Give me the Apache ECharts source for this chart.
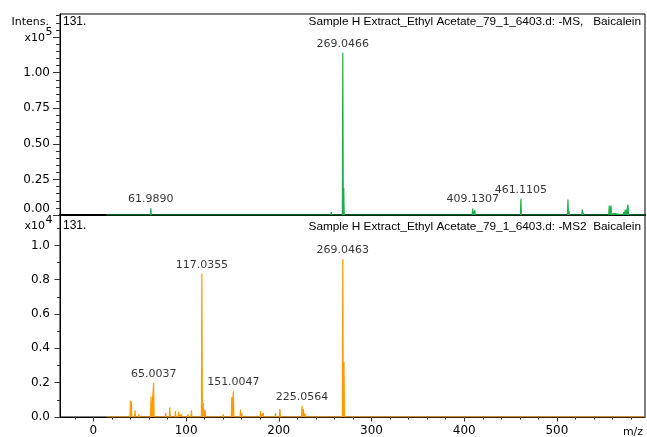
<!DOCTYPE html>
<html><head><meta charset="utf-8">
<script src="https://cdn.jsdelivr.net/npm/echarts@6/dist/echarts.min.js"></script>
<style>html,body{margin:0;padding:0;background:#fff}#c{width:647px;height:437px}</style>
</head><body><div id="c"></div>
<script>
// ---- data (top: x10^5, bottom: x10^4) ----
const topMz  = [61.989, 256.5, 257.6, 269.0466, 270.05, 409.1307, 411.4, 461.1105, 511.9, 513.0, 527.3, 528.6, 539.5, 556.4, 558.3, 561.1, 572.0, 573.8, 576.7];
const topInt = [0.047, 0.02, 0.012, 1.14, 0.19, 0.045, 0.035, 0.114, 0.109, 0.03, 0.039, 0.015, 0.013, 0.067, 0.067, 0.012, 0.02, 0.037, 0.072];
const topLabels = ['61.9890', '269.0466', '409.1307', '461.1105'];

const botMz  = [40.0, 41.0, 44.9, 49.0, 62.2, 65.0037, 78.0, 82.4, 88.5, 92.0, 95.0, 102.0, 105.8, 117.0355, 118.4, 120.5, 140.0, 149.3, 151.0047, 158.7, 160.1, 180.3, 183.2, 196.5, 201.2, 225.0564, 226.6, 228.2, 269.0463, 270.3];
const botInt = [0.095, 0.09, 0.039, 0.015, 0.12, 0.2, 0.023, 0.055, 0.035, 0.03, 0.015, 0.015, 0.039, 0.835, 0.081, 0.043, 0.015, 0.116, 0.15, 0.043, 0.023, 0.035, 0.023, 0.023, 0.046, 0.066, 0.047, 0.02, 0.92, 0.32];
const botLabels = ['65.0037', '117.0355', '151.0047', '225.0564', '269.0463'];

const xTickLabels = [0, 100, 200, 300, 400, 500];
const yTopTickLabels = [0, 0.25, 0.5, 0.75, 1.0];
const yBotTickLabels = [0, 0.2, 0.4, 0.6, 0.8, 1.0];
const acqStart = 14, acqEnd = 595;

function steps(a, b, s) { const r = []; for (let v = a; v <= b + 1e-9; v += s) r.push(+v.toFixed(4)); return r; }
const xMinorTicks = steps(-20, 580, 20);
const xMajorTicks = steps(0, 500, 100);
const yTopMinor = steps(0, 1.40, 0.05);
const yTopMajor = steps(0, 1.25, 0.25);
const yBotMinor = steps(0, 1.1, 0.1);
const yBotMajor = steps(0, 1.0, 0.2);

function spectrum(mz, inten, hw) {
  const pts = [[acqStart, 0]];
  const idx = mz.map((m, i) => i).sort((a, b) => mz[a] - mz[b]);
  idx.forEach(i => { pts.push([mz[i] - hw, 0], [mz[i], inten[i]], [mz[i] + hw, 0]); });
  pts.push([acqEnd, 0]);
  return pts;
}
function labelPts(labels, mz, inten) {
  return labels.map(t => { const i = mz.indexOf(parseFloat(t)); return { name: t, value: [mz[i], inten[i]] }; });
}

const GREEN = '#1fae4a', ORANGE = '#ff9a00';
const tickFont = { fontFamily: 'DejaVu Sans', fontSize: 12, color: '#000' };

const chart = echarts.init(document.getElementById('c'), null, { renderer: 'canvas' });
chart.setOption({
  animation: false,
  color: [GREEN, ORANGE, '#000', '#000'],
  grid: [
    { left: 60, right: 2, top: 14, height: 201, show: true, borderColor: '#000', borderWidth: 1 },
    { left: 60, right: 2, top: 215, height: 202, show: true, borderColor: '#000', borderWidth: 1 }
  ],
  xAxis: [
    { gridIndex: 0, type: 'value', position: 'bottom', min: -36, max: 595, axisLine: { onZero: false, lineStyle: { color: '#000', width: 2 } }, axisTick: { show: false }, axisLabel: { show: false }, splitLine: { show: false } },
    { gridIndex: 1, type: 'value', position: 'bottom', min: -36, max: 595, axisLine: { onZero: false, lineStyle: { color: '#000', width: 1 } },
      axisTick: { customValues: xMinorTicks, length: 2.5, lineStyle: { color: '#333' } },
      axisLabel: { customValues: xTickLabels, margin: 8, ...tickFont }, splitLine: { show: false } },
    { gridIndex: 1, type: 'value', position: 'bottom', min: -36, max: 595, axisLine: { show: false, onZero: false },
      axisTick: { customValues: xMajorTicks, length: 4.5, lineStyle: { color: '#333' } },
      axisLabel: { show: false }, splitLine: { show: false } }
  ],
  yAxis: [
    { gridIndex: 0, type: 'value', position: 'left', min: 0, max: 1.412, axisLine: { show: true, onZero: false, lineStyle: { color: '#000', width: 1 } },
      axisTick: { customValues: yTopMinor, length: 4, lineStyle: { color: '#333' } },
      axisLabel: { customValues: yTopTickLabels, margin: 10, formatter: v => v.toFixed(2), verticalAlignMinLabel: 'bottom', ...tickFont },
      splitLine: { show: false } },
    { gridIndex: 0, type: 'value', position: 'left', min: 0, max: 1.412, axisLine: { show: false, onZero: false },
      axisTick: { customValues: yTopMajor, length: 7, lineStyle: { color: '#333' } }, axisLabel: { show: false }, splitLine: { show: false } },
    { gridIndex: 1, type: 'value', position: 'left', min: 0, max: 1.177, axisLine: { show: true, onZero: false, lineStyle: { color: '#000', width: 1 } },
      axisTick: { customValues: yBotMinor, length: 3, lineStyle: { color: '#333' } },
      axisLabel: { customValues: yBotTickLabels, margin: 10, formatter: v => v.toFixed(1), ...tickFont },
      splitLine: { show: false } },
    { gridIndex: 1, type: 'value', position: 'left', min: 0, max: 1.177, axisLine: { show: false, onZero: false },
      axisTick: { customValues: yBotMajor, length: 5.5, lineStyle: { color: '#333' } }, axisLabel: { show: false }, splitLine: { show: false } }
  ],
  series: [
    { type: 'line', xAxisIndex: 0, yAxisIndex: 0, data: spectrum(topMz, topInt, 0.5), showSymbol: false, symbol: 'none',
      itemStyle: { color: GREEN }, lineStyle: { color: GREEN, width: 1.2 }, areaStyle: { color: GREEN, opacity: 1 }, clip: true, silent: true, z: 3 },
    { type: 'line', xAxisIndex: 1, yAxisIndex: 2, data: spectrum(botMz, botInt, 0.5), showSymbol: false, symbol: 'none',
      itemStyle: { color: ORANGE }, lineStyle: { color: ORANGE, width: 1.2 }, areaStyle: { color: ORANGE, opacity: 1 }, clip: true, silent: true, z: 3 },
    { type: 'scatter', xAxisIndex: 0, yAxisIndex: 0, symbolSize: 1, itemStyle: { color: 'rgba(0,0,0,0)' }, silent: true, data: labelPts(topLabels, topMz, topInt),
      label: { show: true, position: 'top', distance: 3, formatter: p => p.name, fontFamily: 'DejaVu Sans', fontSize: 11, color: '#000' }, z: 5 },
    { type: 'scatter', xAxisIndex: 1, yAxisIndex: 2, symbolSize: 1, itemStyle: { color: 'rgba(0,0,0,0)' }, silent: true, data: labelPts(botLabels, botMz, botInt),
      label: { show: true, position: 'top', distance: 3, formatter: p => p.name, fontFamily: 'DejaVu Sans', fontSize: 11, color: '#000' }, z: 5 }
  ],
  graphic: [
    { type: 'text', style: { text: 'Intens.', x: 49, y: 22, textAlign: 'right', textVerticalAlign: 'middle', font: '11px "DejaVu Sans"', fill: '#000' } },
    { type: 'text', style: { text: 'x10', x: 45, y: 38, textAlign: 'right', textVerticalAlign: 'middle', font: '11px "DejaVu Sans"', fill: '#000' } },
    { type: 'text', style: { text: '5', x: 45.5, y: 32, textAlign: 'left', textVerticalAlign: 'middle', font: '11px "DejaVu Sans"', fill: '#000' } },
    { type: 'text', style: { text: 'x10', x: 45, y: 226, textAlign: 'right', textVerticalAlign: 'middle', font: '11px "DejaVu Sans"', fill: '#000' } },
    { type: 'text', style: { text: '4', x: 45.5, y: 220.5, textAlign: 'left', textVerticalAlign: 'middle', font: '11px "DejaVu Sans"', fill: '#000' } },
    { type: 'text', style: { text: '131.', x: 63, y: 22, textAlign: 'left', textVerticalAlign: 'middle', font: '12px "Liberation Sans"', fill: '#000' } },
    { type: 'text', style: { text: '131.', x: 63, y: 226, textAlign: 'left', textVerticalAlign: 'middle', font: '12px "Liberation Sans"', fill: '#000' } },
    { type: 'text', style: { text: 'Sample H Extract_Ethyl Acetate_79_1_6403.d: -MS,   Baicalein', x: 641, y: 22, textAlign: 'right', textVerticalAlign: 'middle', font: '11.8px "Liberation Sans"', fill: '#000' } },
    { type: 'text', style: { text: 'Sample H Extract_Ethyl Acetate_79_1_6403.d: -MS2  Baicalein', x: 641, y: 227, textAlign: 'right', textVerticalAlign: 'middle', font: '11.8px "Liberation Sans"', fill: '#000' } },
    { type: 'text', style: { text: 'm/z', x: 633, y: 432, textAlign: 'center', textVerticalAlign: 'middle', font: '11px "DejaVu Sans"', fill: '#000' } }
  ]
});
</script></body></html>
